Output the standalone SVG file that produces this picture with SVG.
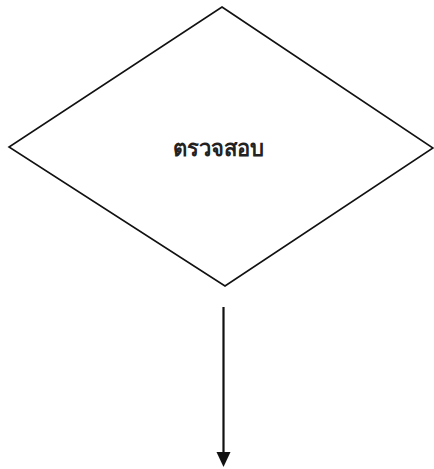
<svg xmlns="http://www.w3.org/2000/svg" width="434" height="469" viewBox="0 0 434 469">
<style>
.shape{fill:#fff;stroke:#111;stroke-width:1.6}
.lbl{font-family:"Noto Sans","DejaVu Sans",sans-serif;font-size:22px;font-weight:bold;fill:#222;text-anchor:middle}
.edge{stroke:#111;stroke-width:2.2;fill:none}
.head{fill:#111}
</style>
<rect width="434" height="469" fill="#fff"/>
<g id="node-check">
<polygon class="shape" points="222,7 433,148 225,286 9,147"/>
<text class="lbl" x="218" y="156">ตรวจสอบ</text>
</g>
<g id="connectors">
<line class="edge" x1="223.5" y1="307" x2="223.5" y2="454"/>
<path class="head" d="M216.5,452 L230.5,452 L223.5,467 Z"/>
</g>
</svg>
